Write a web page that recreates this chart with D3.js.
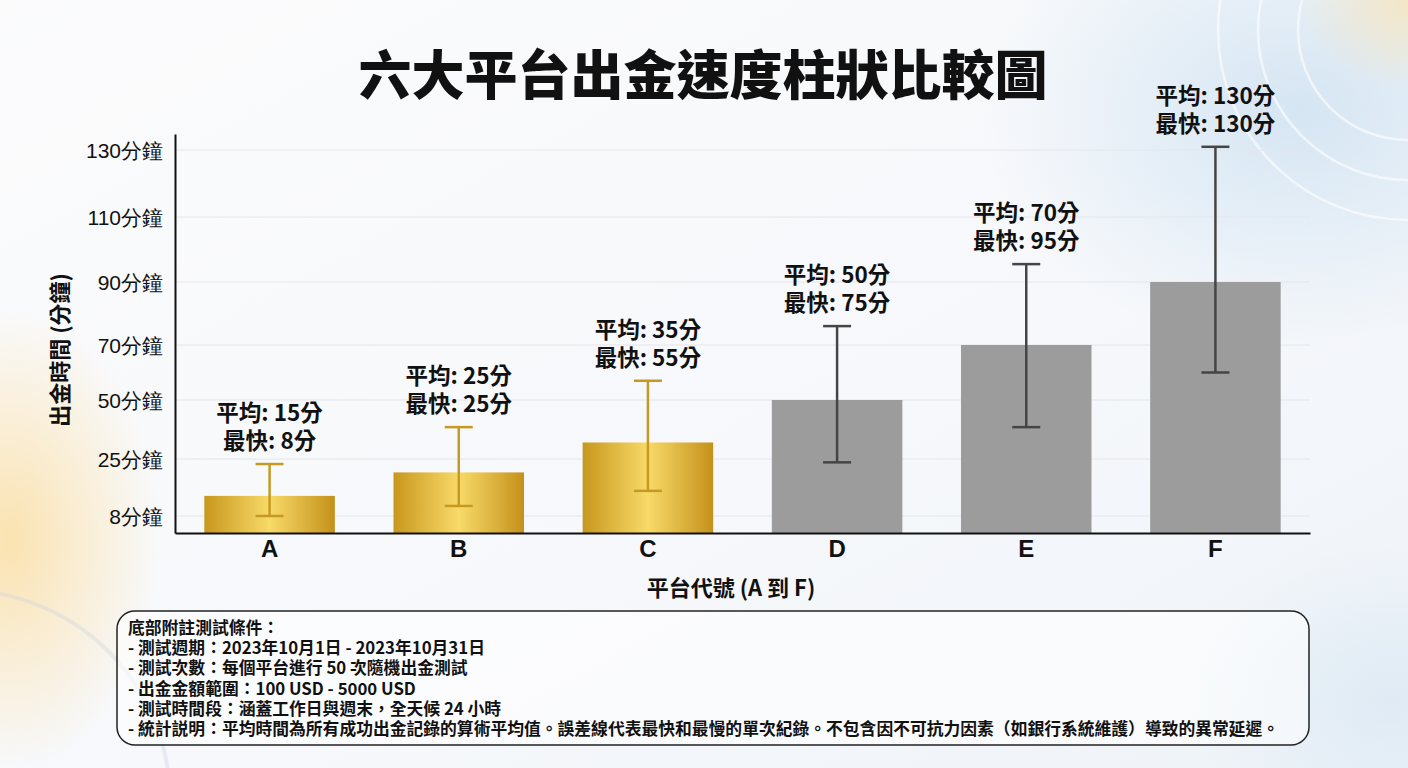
<!DOCTYPE html>
<html>
<head>
<meta charset="utf-8">
<script src="https://cdn.jsdelivr.net/npm/d3@7"></script>
<style>
  body { margin: 0; padding: 0; background: #fff; }
  svg { display: block; font-family: "Noto Sans CJK TC", "Noto Sans", sans-serif; }
  .grid line { stroke: #e3e6eb; stroke-width: 1; }
  .axis path { stroke: #111; stroke-width: 2; }
  .yaxis text { font-size: 21px; fill: #111; font-weight: 500; }
  .xaxis text { font-size: 24px; fill: #111; font-weight: 700; }
  .lbl { font-size: 22.5px; font-weight: 700; fill: #111; }
  .note { font-size: 16.8px; font-weight: 700; fill: #111; }
</style>
</head>
<body>
<script>
// data
const platforms = ["A", "B", "C", "D", "E", "F"];
const barValues = [14, 21, 32, 50, 70, 90];
const errLow = [8, 11, 15.5, 24, 38.5, 60];
const errHigh = [23.5, 38.5, 57, 76, 95.5, 131];
const avgLabels = [15, 25, 35, 50, 70, 130];
const fastLabels = [8, 25, 55, 75, 95, 130];
const tiers = ["gold", "gold", "gold", "gray", "gray", "gray"];
const yTicks = [8, 25, 50, 70, 90, 110, 130];
const noteLines = [
  "底部附註測試條件：",
  "- 測試週期：2023年10月1日 - 2023年10月31日",
  "- 測試次數：每個平台進行 50 次隨機出金測試",
  "- 出金金額範圍：100 USD - 5000 USD",
  "- 測試時間段：涵蓋工作日與週末，全天候 24 小時",
  "- 統計説明：平均時間為所有成功出金記錄的算術平均值。誤差線代表最快和最慢的單次紀錄。不包含因不可抗力因素（如銀行系統維護）導致的異常延遲。"
];

const W = 1408, H = 768;
const left = 175, right = 1310, bottom = 533;

const svg = d3.select("body").append("svg").attr("width", W).attr("height", H);
const defs = svg.append("defs");

// background
const bg = defs.append("linearGradient").attr("id", "bg").attr("x1", 0).attr("y1", 0).attr("x2", 1).attr("y2", 1);
bg.append("stop").attr("offset", "0%").attr("stop-color", "#fbfbfc");
bg.append("stop").attr("offset", "60%").attr("stop-color", "#f6f8fb");
bg.append("stop").attr("offset", "100%").attr("stop-color", "#eef3f8");
function glow(id, col, op) {
  const g = defs.append("radialGradient").attr("id", id);
  g.append("stop").attr("offset", "0%").attr("stop-color", col).attr("stop-opacity", op);
  g.append("stop").attr("offset", "100%").attr("stop-color", col).attr("stop-opacity", 0);
}
glow("blue", "#cfe2f1", 0.85);
glow("warm", "#fbe0a8", 0.9);

svg.append("rect").attr("width", W).attr("height", H).attr("fill", "url(#bg)");
svg.append("ellipse").attr("cx", 1300).attr("cy", 110).attr("rx", 320).attr("ry", 240).attr("fill", "url(#blue)");
svg.append("ellipse").attr("cx", 1390).attr("cy", 700).attr("rx", 200).attr("ry", 160).attr("fill", "url(#blue)").attr("opacity", 0.6);
svg.append("ellipse").attr("cx", 1408).attr("cy", 0).attr("rx", 110).attr("ry", 90).attr("fill", "url(#warm)").attr("opacity", 0.7);
svg.append("ellipse").attr("cx", 10).attr("cy", 540).attr("rx", 150).attr("ry", 230).attr("fill", "url(#warm)");
[110, 150, 190].forEach(r => {
  svg.append("circle").attr("cx", 1408).attr("cy", 30).attr("r", r)
    .attr("fill", "none").attr("stroke", "#ffffff").attr("stroke-width", 2.5).attr("opacity", 0.6);
});
svg.append("circle").attr("cx", -40).attr("cy", 800).attr("r", 210)
  .attr("fill", "none").attr("stroke", "#c9d2e0").attr("stroke-width", 4).attr("opacity", 0.35);

// bar gradients
const gold = defs.append("linearGradient").attr("id", "gold").attr("x1", 0).attr("x2", 1).attr("y1", 0).attr("y2", 0);
gold.append("stop").attr("offset", "0%").attr("stop-color", "#c8971d");
gold.append("stop").attr("offset", "50%").attr("stop-color", "#f8da68");
gold.append("stop").attr("offset", "100%").attr("stop-color", "#c4911a");

// scales
const y = d3.scaleLinear()
  .domain([0, 8, 25, 50, 70, 90, 110, 130, 135])
  .range([bottom, 516, 459, 400, 345, 282, 217, 150, 134]);
const x = d3.scaleBand().domain(platforms).range([left, right]).paddingInner(0.31).paddingOuter(0.155);

// title
svg.append("text").attr("x", 703).attr("y", 95).attr("text-anchor", "middle")
  .style("font-size", "53px").style("font-weight", 900).attr("fill", "#111")
  .text("六大平台出金速度柱狀比較圖");

// gridlines
svg.append("g").attr("class", "grid").selectAll("line").data(yTicks).enter().append("line")
  .attr("x1", left).attr("x2", right).attr("y1", d => y(d)).attr("y2", d => y(d));

// bars
svg.append("g").selectAll("rect").data(platforms).enter().append("rect")
  .attr("x", d => x(d))
  .attr("y", (d, i) => y(barValues[i]))
  .attr("width", x.bandwidth())
  .attr("height", (d, i) => bottom - y(barValues[i]))
  .attr("fill", (d, i) => tiers[i] == "gold" ? "url(#gold)" : "#9c9c9c");

// error bars
const err = svg.append("g").selectAll("g").data(platforms).enter().append("g")
  .attr("stroke", (d, i) => tiers[i] == "gold" ? "#c69a22" : "#454545")
  .attr("stroke-width", 2.5);
err.append("line")
  .attr("x1", d => x(d) + x.bandwidth() / 2).attr("x2", d => x(d) + x.bandwidth() / 2)
  .attr("y1", (d, i) => y(errLow[i])).attr("y2", (d, i) => y(errHigh[i]));
err.append("line")
  .attr("x1", d => x(d) + x.bandwidth() / 2 - 14).attr("x2", d => x(d) + x.bandwidth() / 2 + 14)
  .attr("y1", (d, i) => y(errLow[i])).attr("y2", (d, i) => y(errLow[i]));
err.append("line")
  .attr("x1", d => x(d) + x.bandwidth() / 2 - 14).attr("x2", d => x(d) + x.bandwidth() / 2 + 14)
  .attr("y1", (d, i) => y(errHigh[i])).attr("y2", (d, i) => y(errHigh[i]));

// value labels
const lbl = svg.append("g").selectAll("text").data(platforms).enter().append("text")
  .attr("class", "lbl").attr("text-anchor", "middle");
lbl.append("tspan")
  .attr("x", d => x(d) + x.bandwidth() / 2)
  .attr("y", (d, i) => y(errHigh[i]) - 43)
  .text((d, i) => "平均: " + avgLabels[i] + "分");
lbl.append("tspan")
  .attr("x", d => x(d) + x.bandwidth() / 2)
  .attr("y", (d, i) => y(errHigh[i]) - 15)
  .text((d, i) => "最快: " + fastLabels[i] + "分");

// axes
svg.append("g").attr("class", "axis yaxis").attr("transform", "translate(" + left + ",0)")
  .call(d3.axisLeft(y).tickValues(yTicks).tickSize(0).tickPadding(12).tickFormat(d => d + "分鐘"))
  .call(g => g.selectAll("text").attr("dy", "0.35em"));
svg.append("g").attr("class", "axis xaxis").attr("transform", "translate(0," + bottom + ")")
  .call(d3.axisBottom(x).tickSize(0).tickPadding(7))
  .call(g => g.selectAll("text").attr("dy", "0.71em"));

svg.append("text").attr("transform", "translate(68,350)rotate(-90)").attr("text-anchor", "middle")
  .style("font-size", "22px").style("font-weight", 700).attr("fill", "#111")
  .text("出金時間 (分鐘)");
svg.append("text").attr("x", 731).attr("y", 596).attr("text-anchor", "middle")
  .style("font-size", "22px").style("font-weight", 700).attr("fill", "#111")
  .text("平台代號 (A 到 F)");

// notes box
svg.append("rect").attr("x", 117).attr("y", 611).attr("width", 1192).attr("height", 134).attr("rx", 18)
  .attr("fill", "#ffffff").attr("fill-opacity", 0.55).attr("stroke", "#222").attr("stroke-width", 1.5);
svg.append("g").selectAll("text").data(noteLines).enter().append("text")
  .attr("class", "note").attr("x", 128).attr("y", (d, i) => 634 + i * 20.2)
  .text(d => d);
</script>
</body>
</html>
